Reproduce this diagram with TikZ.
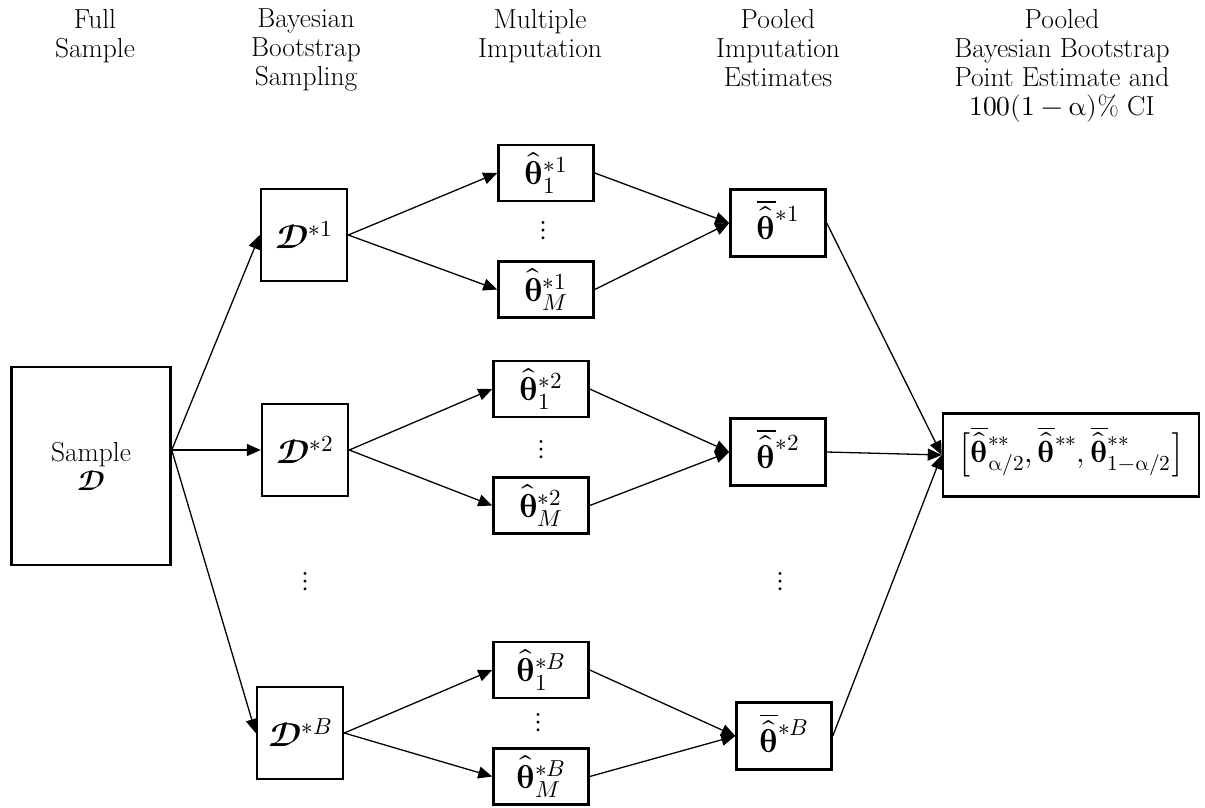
\documentclass[tikz,border=0pt]{standalone}
\usepackage{unicode-math}
\usetikzlibrary{arrows.meta}
\usetikzlibrary{positioning}

\newcommand{\thhat}{\widehat{\symbfup{\theta}}}
\newcommand{\thbar}{{\smash{\overline{\widehat{\symbfup{\theta}}}}\vphantom{\symbfup{\theta}}}}
\newcommand{\Dset}{\symbfscr{D}}

\tikzstyle{BigText}  = [font=\fontsize{27.5}{29}\selectfont]
\tikzstyle{MathText} = [font=\fontsize{33}{36}\selectfont]
\tikzstyle{Title}    = [BigText, align=center, anchor=north, inner sep=0pt]
\tikzstyle{BasicBox} = [MathText, rectangle, draw=black, line width=2.5pt, fill=white, text centered, inner sep=0pt]
\tikzstyle{SampleBox} = [BasicBox, BigText, align=center, minimum width=159pt, minimum height=198pt]
\tikzstyle{DataBox}  = [BasicBox, minimum width=86pt, minimum height=92pt]
\tikzstyle{ThetaBox} = [BasicBox, minimum width=95pt, minimum height=56pt]
\tikzstyle{PoolBox}  = [BasicBox, minimum width=95pt, minimum height=67pt]
\tikzstyle{Dots}     = [BigText, inner sep=0pt]
\tikzstyle{Link}     = [line width=1.3pt, -{Triangle[length=14pt,width=12pt]}]

\begin{document}
\begin{tikzpicture}[x=1pt, y=-1pt]

\useasboundingbox (0,0) rectangle (1205,807);

%% ------------------------------------------------------------ [ Titles ]
\node (hfull) [Title] at (95,9) {Full\\Sample};
\node (hboot) [Title] at (306,9) {Bayesian\\Bootstrap\\Sampling};
\node (himp)  [Title] at (540,9) {Multiple\\Imputation};
\node (hpool) [Title] at (778,9) {Pooled\\Imputation\\Estimates};
\node (hfin)  [Title] at (1062,9) {Pooled\\Bayesian Bootstrap\\Point Estimate and\\$100(1-\upalpha)$\% CI};

%% ------------------------------------------------------------ [ Samples ]
\node (sample) [SampleBox] at (91,466) {Sample\\$\Dset$};

\node (d1) [DataBox] at (304,235) {$\Dset^{*1}$};
\node (d2) [DataBox] at (305,450) {$\Dset^{*2}$};
\node (dB) [DataBox] at (300,733) {$\Dset^{*B}$};
\node (dvdots) [Dots] at (305,582) {$\vdots$};

%% ------------------------------------------------------------ [ Imputations ]
\node (t11) [ThetaBox] at (546,173) {$\thhat^{*1}_{1}$};
\node (tM1) [ThetaBox, below = 58pt of t11] {$\thhat^{*1}_{M}$};
\node (tv1) [Dots] at (543,231) {$\vdots$};

\node (t12) [ThetaBox] at (541,389) {$\thhat^{*2}_{1}$};
\node (tM2) [ThetaBox, below = 58pt of t12] {$\thhat^{*2}_{M}$};
\node (tv2) [Dots] at (541,450) {$\vdots$};

\node (t1B) [ThetaBox] at (541,670) {$\thhat^{*B}_{1}$};
\node (tMB) [ThetaBox, below = 48pt of t1B] {$\thhat^{*B}_{M}$};
\node (tvB) [Dots] at (538,723) {$\vdots$};

%% ------------------------------------------------------------ [ Pooled ]
\node (p1) [PoolBox] at (778,223) {$\thbar^{*1}$};
\node (p2) [PoolBox] at (778,452) {$\thbar^{*2}$};
\node (pB) [PoolBox] at (784,736) {$\thbar^{*B}$};
\node (pvdots) [Dots] at (780,582) {$\vdots$};

\node (final) [BasicBox, font=\fontsize{30.5}{34}\selectfont,
               minimum width=256pt, minimum height=83pt] at (1071,455)
  {$\left[\thbar^{**}_{\upalpha/2},\thbar^{**},\thbar^{**}_{1-\upalpha/2}\right]$};

%% ------------------------------------------------------------ [ Links ]
\coordinate (fork) at (sample.east |- d2.west);
\draw [Link] (fork) -- (d1.west);
\draw [Link] (fork) -- (d2.west);
\draw [Link] (fork) -- (dB.west);

\draw [Link] (d1.east) -- (t11.west);
\draw [Link] (d1.east) -- (tM1.west);
\draw [Link] (d2.east) -- (t12.west);
\draw [Link] (d2.east) -- (tM2.west);
\draw [Link] (dB.east) -- (t1B.west);
\draw [Link] (dB.east) -- (tMB.west);

\draw [Link] (t11.east) -- (p1.west);
\draw [Link] (tM1.east) -- (p1.west);
\draw [Link] (t12.east) -- (p2.west);
\draw [Link] (tM2.east) -- (p2.west);
\draw [Link] (t1B.east) -- (pB.west);
\draw [Link] (tMB.east) -- (pB.west);

\draw [Link] (p1.east) -- (final.west);
\draw [Link] (p2.east) -- (final.west);
\draw [Link] (pB.east) -- (final.west);
\end{tikzpicture}
\end{document}
